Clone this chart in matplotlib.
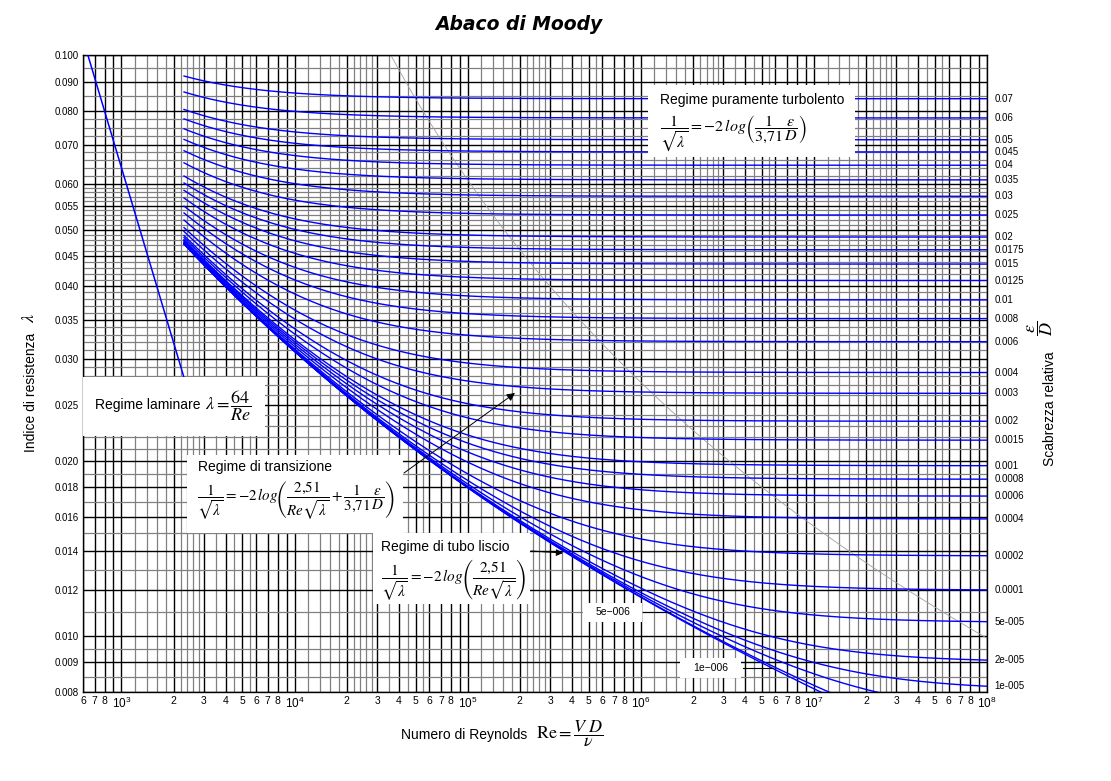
import numpy as np
import matplotlib
matplotlib.use('Agg')
import matplotlib.pyplot as plt
from matplotlib.patches import Rectangle
from matplotlib.ticker import FixedLocator, FixedFormatter
from matplotlib.transforms import blended_transform_factory

plt.rcParams['font.family'] = ['Liberation Sans', 'DejaVu Sans']
plt.rcParams['mathtext.fontset'] = 'stix'

# scabrezza relativa eps/D delle curve con etichetta a destra
scabrezza = [0.07, 0.06, 0.05, 0.045, 0.04, 0.035, 0.03, 0.025, 0.02, 0.0175,
             0.015, 0.0125, 0.01, 0.008, 0.006, 0.004, 0.003, 0.002, 0.0015,
             0.001, 0.0008, 0.0006, 0.0004, 0.0002, 0.0001, 5e-5, 2e-5, 1e-5]
etichette = ['0.07', '0.06', '0.05', '0.045', '0.04', '0.035', '0.03', '0.025',
             '0.02', '0.0175', '0.015', '0.0125', '0.01', '0.008', '0.006',
             '0.004', '0.003', '0.002', '0.0015', '0.001', '0.0008', '0.0006',
             '0.0004', '0.0002', '0.0001', '5e-005', '2e-005', '1e-005']
# curve etichettate dentro il grafico, piu' il tubo liscio
scabrezza_interne = [5e-6, 1e-6, 0.0]

re_inizio_turb = 2300      # inizio delle curve di Colebrook
re_fine = 1e8
re_laminare = [600, 2300]  # tratto laminare lambda = 64/Re
re_eps_limite = 3500       # Re*eps/D lungo la linea grigia di confine

x_lim = (600, 1e8)
y_lim = (0.008, 0.100)
y_major = [0.008, 0.009, 0.010, 0.012, 0.014, 0.016, 0.018, 0.020, 0.025,
           0.030, 0.035, 0.040, 0.045, 0.050, 0.055, 0.060, 0.070, 0.080,
           0.090, 0.100]
y_minor = [0.0085, 0.0095, 0.011, 0.013, 0.015, 0.017, 0.019, 0.021, 0.022,
           0.023, 0.024, 0.026, 0.027, 0.028, 0.029, 0.031, 0.032, 0.033,
           0.034, 0.036, 0.037, 0.038, 0.039, 0.041, 0.042, 0.043, 0.044,
           0.046, 0.047, 0.048, 0.049, 0.051, 0.052, 0.053, 0.054, 0.056,
           0.057, 0.058, 0.059, 0.062, 0.064, 0.066, 0.068, 0.0725, 0.075,
           0.0775, 0.085, 0.095]
x_mant_major = [1, 2, 3, 4, 5, 6, 7, 8, 9]
x_mant_minor = [1.2, 1.4, 1.6, 1.8, 2.2, 2.4, 2.6, 2.8, 3.5, 4.5, 5.5]
decadi = [2, 3, 4, 5, 6, 7]


def colebrook(Re, eps):
    lam = np.full_like(Re, 0.02)
    for _ in range(80):
        lam = (-2 * np.log10(2.51 / (Re * np.sqrt(lam)) + eps / 3.71)) ** -2
    return lam


W, H = 1111, 781
fig = plt.figure(figsize=(W / 100, H / 100), dpi=100)
AX_L, AX_R, AX_T, AX_B = 83, 987, 55, 692
ax = fig.add_axes([AX_L / W, 1 - AX_B / H, (AX_R - AX_L) / W, (AX_B - AX_T) / H])


def pa(x, y):
    # pixel della figura -> frazione degli assi
    return ((x - AX_L) / (AX_R - AX_L), (AX_B - y) / (AX_B - AX_T))


def pf(x, y):
    return (x / W, 1 - y / H)


ax.set_xscale('log')
ax.set_yscale('log')
ax.set_xlim(*x_lim)
ax.set_ylim(*y_lim)

xmaj = [m * 10 ** d for d in decadi for m in x_mant_major] + [1e8]
xmaj = [v for v in xmaj if v >= 600]
xmin = [m * 10 ** d for d in decadi for m in x_mant_minor]
xmin = [v for v in xmin if v >= 600]
xlab = []
for v in xmaj:
    e = int(np.floor(np.log10(v) + 1e-9))
    m = int(round(v / 10 ** e))
    if m == 1:
        xlab.append(r'$\mathregular{10^{%d}}$' % e)
    elif m == 9:
        xlab.append('')
    else:
        xlab.append(str(m))
ax.xaxis.set_major_locator(FixedLocator(xmaj))
ax.xaxis.set_major_formatter(FixedFormatter(xlab))
ax.xaxis.set_minor_locator(FixedLocator(xmin))
ax.xaxis.set_minor_formatter(FixedFormatter([''] * len(xmin)))
ax.yaxis.set_major_locator(FixedLocator(y_major))
ax.yaxis.set_major_formatter(FixedFormatter(['%.3f' % v for v in y_major]))
ax.yaxis.set_minor_locator(FixedLocator(y_minor))
ax.yaxis.set_minor_formatter(FixedFormatter([''] * len(y_minor)))
ax.tick_params(which='both', length=0)
ax.tick_params(axis='x', labelsize=7.5, pad=3)
ax.tick_params(axis='y', labelsize=7, pad=3)
for t, s in zip(ax.get_xticklabels(), xlab):
    if s.startswith('$'):
        t.set_fontsize(8.5)
ax.set_axisbelow(True)
ax.grid(True, which='minor', color='#808080', lw=0.9)
ax.grid(True, which='major', color='black', lw=1.0)
for s in ax.spines.values():
    s.set_linewidth(1.0)

# curve di Colebrook
Re = np.logspace(np.log10(re_inizio_turb), np.log10(re_fine), 500)
trans_r = blended_transform_factory(ax.transAxes, ax.transData)
for eps, lab in zip(scabrezza, etichette):
    lam = colebrook(Re, eps)
    ax.plot(Re, lam, color='#0000ff', lw=1.0, zorder=3)
    ax.text(1.008, lam[-1], lab, transform=trans_r, fontsize=7,
            va='center', ha='left', clip_on=False)
for eps in scabrezza_interne:
    ax.plot(Re, colebrook(Re, eps), color='#0000ff', lw=1.0, zorder=3)

# laminare
re_l = np.array(re_laminare, dtype=float)
ax.plot(re_l, 64 / re_l, color='#0000ff', lw=1.1, zorder=3)

# linea di confine del regime puramente turbolento
eps_b = np.logspace(np.log10(0.12), np.log10(3e-5), 200)
lam_b = (-2 * np.log10(eps_b / 3.71)) ** -2
ax.plot(re_eps_limite / eps_b, lam_b, color='#a0a0a0', lw=0.6, zorder=2.5)


def box(x0, y0, x1, y1):
    a0 = pa(x0, y1)
    a1 = pa(x1, y0)
    ax.add_patch(Rectangle(a0, a1[0] - a0[0], a1[1] - a0[1], transform=ax.transAxes,
                           facecolor='white', edgecolor='none', zorder=5, clip_on=False))


def txt(x, y, s, size, **kw):
    ax.text(*pa(x, y), s, transform=ax.transAxes, fontsize=size, zorder=6,
            clip_on=False, **kw)


# regime puramente turbolento
box(648, 85, 855, 157)
txt(660, 100, 'Regime puramente turbolento', 10, va='center')
txt(660, 134, r'$\dfrac{1}{\sqrt{\lambda}}=-2\,log\left(\dfrac{1}{3{,}71}\dfrac{\varepsilon}{D}\right)$',
    11.5, va='center')

# laminare
box(83, 377, 265, 436)
txt(95, 405, 'Regime laminare', 10, va='center')
txt(205, 406, r'$\lambda=\dfrac{64}{Re}$', 13, va='center')

# transizione
box(187, 455, 403, 533)
txt(198, 467, 'Regime di transizione', 10, va='center')
txt(197, 501, r'$\dfrac{1}{\sqrt{\lambda}}=-2\,log\left(\dfrac{2{,}51}{Re\sqrt{\lambda}}+\dfrac{1}{3{,}71}\dfrac{\varepsilon}{D}\right)$',
    10.8, va='center')

# tubo liscio
box(373, 533, 530, 604)
txt(381, 547, 'Regime di tubo liscio', 10, va='center')
txt(381, 580, r'$\dfrac{1}{\sqrt{\lambda}}=-2\,log\left(\dfrac{2{,}51}{Re\sqrt{\lambda}}\right)$',
    11, va='center')

# etichette interne
box(583, 603, 642, 622)
txt(613, 612, '5e\u2212006', 7.5, va='center', ha='center')
ax.plot(*zip(pa(643, 612), pa(670, 612)), transform=ax.transAxes, color='black',
        lw=0.8, zorder=6)
box(680, 658, 741, 678)
txt(711, 668, '1e\u2212006', 7.5, va='center', ha='center')
ax.plot(*zip(pa(743, 668), pa(773, 668)), transform=ax.transAxes, color='black',
        lw=0.8, zorder=6)

# frecce
ax.annotate('', xy=pa(515, 393), xytext=pa(404, 473), xycoords='axes fraction',
            textcoords='axes fraction', zorder=7,
            arrowprops=dict(arrowstyle='-|>', color='black', lw=0.7,
                            mutation_scale=12, shrinkA=0, shrinkB=0))
ax.annotate('', xy=pa(563, 553), xytext=pa(531, 551), xycoords='axes fraction',
            textcoords='axes fraction', zorder=7,
            arrowprops=dict(arrowstyle='-|>', color='black', lw=0.7,
                            mutation_scale=10, shrinkA=0, shrinkB=0))

# titolo ed etichette degli assi
fig.text(*pf(519, 24), 'Abaco di Moody', family='DejaVu Sans', fontsize=13.5,
         fontweight='bold', fontstyle='italic', ha='center', va='center')
fig.text(*pf(464, 735), 'Numero di Reynolds', fontsize=10, ha='center', va='center')
fig.text(*pf(570, 734), r'$\mathrm{Re}=\dfrac{V\ D}{\nu}$', fontsize=13,
         ha='center', va='center')
fig.text(*pf(31, 392), 'Indice di resistenza', fontsize=10,
         rotation=90, ha='center', va='center')
fig.text(*pf(30, 318), r'$\lambda$', fontsize=13,
         rotation=90, ha='center', va='center')
fig.text(*pf(1050, 409), 'Scabrezza relativa', fontsize=10,
         rotation=90, ha='center', va='center')
fig.text(*pf(1040, 328), r'$\dfrac{\varepsilon}{D}$', fontsize=13,
         rotation=90, ha='center', va='center')

fig.savefig('out.png', dpi=100)
